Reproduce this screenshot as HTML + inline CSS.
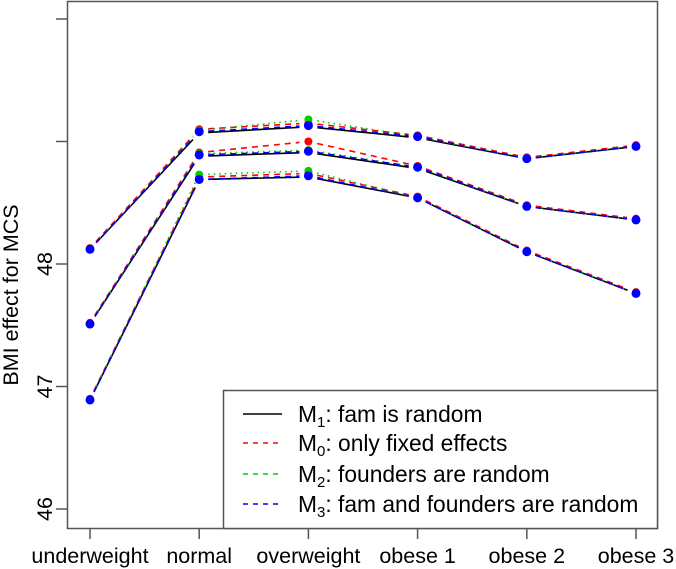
<!DOCTYPE html>
<html><head><meta charset="utf-8"><style>
body{margin:0;background:#fff}
svg{display:block;font-family:"Liberation Sans",Arial,sans-serif}
</style></head><body>
<svg id="chart" width="676" height="569" viewBox="0 0 676 569" xmlns="http://www.w3.org/2000/svg">
<rect x="67.5" y="1.5" width="590" height="527" fill="none" stroke="#555" stroke-width="1.5"/>
<g id="yaxis"></g>
<g id="xaxis"></g>
<text transform="translate(18,295) rotate(-90)" text-anchor="middle" font-size="21.5">BMI effect for MCS</text>
<g id="marks"></g>
<g>
<rect x="223.5" y="390.5" width="434" height="138" fill="#fff" stroke="#555" stroke-width="1.5"/>
<g><line x1="243" y1="414" x2="282" y2="414" stroke="#000" stroke-width="1.5"/><text x="298" y="422" font-size="22.8">M<tspan font-size="15" dy="5">1</tspan><tspan dy="-5">: fam is random</tspan></text></g>
<g><line x1="243" y1="443" x2="282" y2="443" stroke="#f00" stroke-width="1.5" stroke-dasharray="5,5"/><text x="298" y="451" font-size="22.8">M<tspan font-size="15" dy="5">0</tspan><tspan dy="-5">: only fixed effects</tspan></text></g>
<g><line x1="243" y1="474" x2="282" y2="474" stroke="#0c0" stroke-width="1.5" stroke-dasharray="5,5"/><text x="298" y="482" font-size="22.8">M<tspan font-size="15" dy="5">2</tspan><tspan dy="-5">: founders are random</tspan></text></g>
<g><line x1="243" y1="504" x2="282" y2="504" stroke="#00f" stroke-width="1.5" stroke-dasharray="5,5"/><text x="298" y="512" font-size="22.8">M<tspan font-size="15" dy="5">3</tspan><tspan dy="-5">: fam and founders are random</tspan></text></g>
</g>
</svg>
<script>
const categories = ["underweight","normal","overweight","obese 1","obese 2","obese 3"];
const yTicks = [46,47,48,49,50];
const yTickLabels = ["46","47","48","",""];
const m1Upper = [48.12,49.07,49.12,49.03,48.86,48.96];
const m1Mid   = [47.51,48.88,48.91,48.78,48.47,48.36];
const m1Low   = [46.89,48.69,48.71,48.54,48.10,47.76];
const m0Upper = [48.13,49.10,49.15,49.05,48.87,48.97];
const m0Mid   = [47.52,48.91,49.00,48.80,48.48,48.37];
const m0Low   = [46.90,48.71,48.74,48.55,48.11,47.77];
const m2Upper = [48.12,49.09,49.18,49.04,48.86,48.96];
const m2Mid   = [47.51,48.90,48.93,48.79,48.47,48.36];
const m2Low   = [46.89,48.73,48.76,48.54,48.10,47.76];
const m3Upper = [48.12,49.08,49.13,49.04,48.86,48.96];
const m3Mid   = [47.51,48.89,48.92,48.79,48.47,48.36];
const m3Low   = [46.89,48.69,48.72,48.54,48.10,47.76];

const NS="http://www.w3.org/2000/svg";
function xs(i){return 90+i*109.2;}
function ys(v){return 264-(v-48)*122.5;}
function mk(tag,attrs,parent){const e=document.createElementNS(NS,tag);for(const k in attrs)e.setAttribute(k,attrs[k]);parent.appendChild(e);return e;}

const ya=document.getElementById('yaxis');
yTicks.forEach((t,i)=>{
  const l=mk('line',{x1:56,x2:67,y1:ys(t),y2:ys(t),stroke:'#555','stroke-width':1.5},ya);
  
  
  if(yTickLabels[i]){
    const tx=mk('text',{transform:`translate(52,${ys(t)}) rotate(-90)`,'text-anchor':'middle','font-size':21.5},ya);
    tx.textContent=yTickLabels[i];
    
    
  }
});
const xa=document.getElementById('xaxis');
categories.forEach((c,i)=>{
  const l=mk('line',{x1:xs(i),x2:xs(i),y1:528,y2:539,stroke:'#555','stroke-width':1.5},xa);
  
  
  const tx=mk('text',{x:xs(i),y:563,'text-anchor':'middle','font-size':21.5},xa);
  tx.textContent=c;
  
  
});

const marks=document.getElementById('marks');
const models=[
 {name:'m1',color:'#000',dash:null,series:[m1Upper,m1Mid,m1Low],pts:false},
 {name:'m0',color:'#f00',dash:'6,5',series:[m0Upper,m0Mid,m0Low],pts:true},
 {name:'m2',color:'#0c0',dash:'1.5,4',series:[m2Upper,m2Mid,m2Low],pts:true},
 {name:'m3',color:'#00f',dash:'6,5',series:[m3Upper,m3Mid,m3Low],pts:true}
];
const gap=9;
models.forEach(m=>{
  m.series.forEach(s=>{
    for(let i=0;i<s.length-1;i++){
      const x1=xs(i),y1=ys(s[i]),x2=xs(i+1),y2=ys(s[i+1]);
      const d=Math.hypot(x2-x1,y2-y1),ux=(x2-x1)/d,uy=(y2-y1)/d;
      const a={x1:x1+ux*gap,y1:y1+uy*gap,x2:x2-ux*gap,y2:y2-uy*gap,stroke:m.color,'stroke-width':1.6};
      if(m.dash)a['stroke-dasharray']=m.dash;
      const l=mk('line',a,marks);
      
      
    }
  });
});
models.forEach(m=>{
  if(!m.pts)return;
  m.series.forEach(s=>{
    s.forEach((v,i)=>{
      const c=mk('circle',{cx:xs(i),cy:ys(v),r:m.name==='m3'?4.5:4,fill:m.color},marks);
      
      
    });
  });
});
</script>
</body></html>
